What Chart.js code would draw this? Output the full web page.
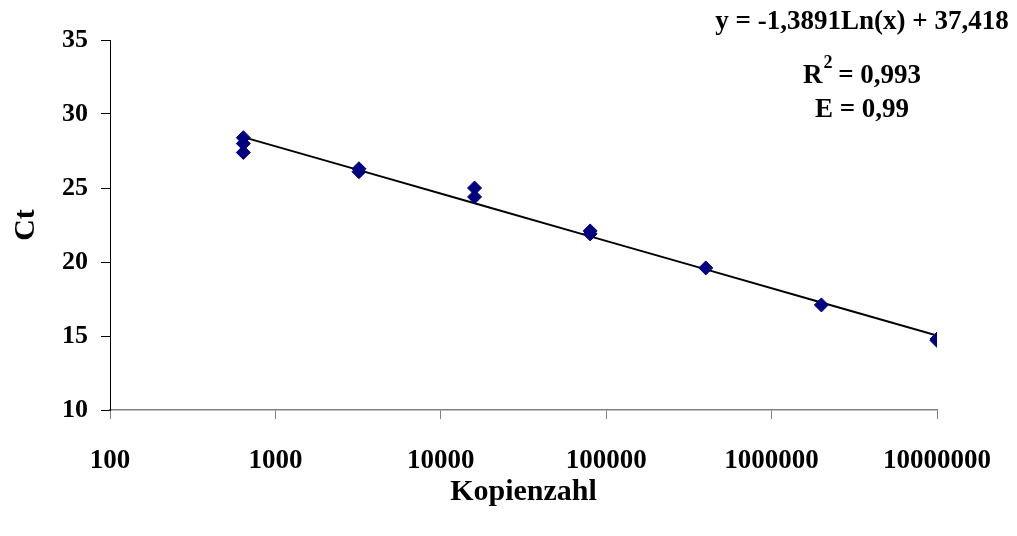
<!DOCTYPE html>
<html>
<head>
<meta charset="utf-8">
<script src="https://cdn.jsdelivr.net/npm/chart.js@4"></script>
<style>
  html, body { margin: 0; padding: 0; background: #fff; }
  #wrap { width: 1017px; height: 536px; }
</style>
</head>
<body>
<div id="wrap"><canvas id="c" width="1017" height="536"></canvas></div>
<script>
// measured copies (Kopienzahl) and Ct values
const copies = [640, 640, 640, 3200, 3200, 16000, 16000, 80000, 80000, 400000, 2000000, 10000000, 10000000];
const ctValues = [28.4, 28.0, 27.4, 26.3, 26.1, 25.0, 24.4, 22.1, 21.9, 19.6, 17.1, 14.8, 14.7];

// logarithmic trend line, y = -1,3891Ln(x) + 37,418
const trendX = [640, 3200, 16000, 80000, 400000, 2000000, 10000000];
const trendY = [28.44, 26.21, 23.97, 21.73, 19.50, 17.26, 15.03];

const xTicks = [100, 1000, 10000, 100000, 1000000, 10000000];
const yTicks = [10, 15, 20, 25, 30, 35];
const equation = "y = -1,3891Ln(x) + 37,418";
const rSquared = "0,993";
const efficiency = "E = 0,99";

const serif = "'Liberation Serif', 'Times New Roman', serif";

const infoText = {
  id: "infoText",
  afterDraw(chart) {
    const c = chart.ctx;
    const big = "bold 27px " + serif, small = "bold 18px " + serif;
    c.save();
    c.fillStyle = "#000";
    c.font = big;
    c.textBaseline = "middle";
    c.textAlign = "center";
    c.fillText(equation, 862, 22);
    // R² with raised 2
    const rest = " = " + rSquared;
    const wR = c.measureText("R").width;
    const wRest = c.measureText(rest).width;
    c.font = small;
    const w2 = c.measureText("2").width;
    const x0 = 862 - (wR + w2 + wRest) / 2;
    c.textAlign = "left";
    c.font = big;
    c.fillText("R", x0, 76);
    c.font = small;
    c.fillText("2", x0 + wR + 1, 63);
    c.font = big;
    c.fillText(rest, x0 + wR + w2, 76);
    c.textAlign = "center";
    c.fillText(efficiency, 862, 110);
    c.restore();
  }
};

new Chart(document.getElementById("c"), {
  type: "scatter",
  data: {
    datasets: [
      {
        label: "Ct",
        data: copies.map((x, i) => ({ x: x, y: ctValues[i] })),
        pointStyle: "rectRot",
        pointRadius: 7,
        backgroundColor: "#000080",
        borderColor: "#000080",
        borderWidth: 1,
        showLine: false,
        order: 1
      },
      {
        label: "Trend",
        data: trendX.map((x, i) => ({ x: x, y: trendY[i] })),
        showLine: true,
        borderColor: "#000",
        borderWidth: 2,
        pointRadius: 0,
        fill: false,
        order: 2
      }
    ]
  },
  options: {
    responsive: false,
    animation: false,
    layout: { padding: { top: 40, right: 75, left: 0, bottom: 0 } },
    plugins: { legend: { display: false }, tooltip: { enabled: false } },
    scales: {
      x: {
        type: "logarithmic",
        min: 100,
        max: 10000000,
        afterBuildTicks(scale) { scale.ticks = xTicks.map(v => ({ value: v })); },
        afterFit(scale) { scale.height = 126; },
        grid: { drawOnChartArea: false, drawTicks: true, tickLength: 9, color: "#808080" },
        border: { color: "#808080", width: 1.5 },
        ticks: {
          color: "#000",
          padding: 26,
          maxRotation: 0,
          autoSkip: false,
          font: { family: serif, size: 27, weight: "bold" },
          callback: v => String(v)
        },
        title: {
          display: true,
          text: "Kopienzahl",
          color: "#000",
          font: { family: serif, size: 30, weight: "bold" },
          padding: { top: 26, bottom: 26 }
        }
      },
      y: {
        min: 10,
        max: 35,
        afterBuildTicks(scale) { scale.ticks = yTicks.map(v => ({ value: v })); },
        afterFit(scale) { scale.width = 110; },
        grid: { drawOnChartArea: false, drawTicks: true, tickLength: 9, color: "#000" },
        border: { color: "#000", width: 1 },
        ticks: {
          color: "#000",
          padding: 13,
          font: { family: serif, size: 26, weight: "bold" }
        },
        title: {
          display: true,
          text: "Ct",
          color: "#000",
          font: { family: serif, size: 30, weight: "bold" },
          padding: { bottom: 0, top: 8 }
        }
      }
    }
  },
  plugins: [infoText]
});
</script>
</body>
</html>
